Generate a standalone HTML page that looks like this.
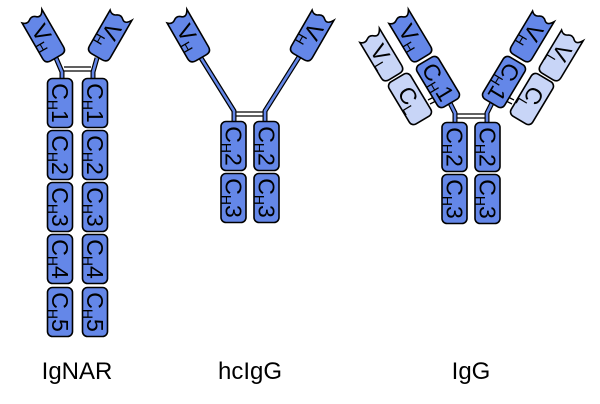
<!DOCTYPE html>
<html><head><meta charset="utf-8"><style>
html,body{margin:0;padding:0;background:#fff;}
svg{display:block;}
.h{fill:#6487e8;stroke:#000;stroke-width:1.6;}
.l{fill:#c8d5f7;stroke:#000;stroke-width:1.6;}
text{font-family:"Liberation Sans",sans-serif;fill:#000;}
.t{font-size:23px;}
.lab{font-size:24px;}
.ck{fill:none;stroke:#000;stroke-width:5;stroke-linejoin:round;}
.cb{fill:none;stroke:#6487e8;stroke-width:2.6;stroke-linejoin:round;}
.br{stroke:#000;stroke-width:1.3;}
</style></head><body>
<svg width="600" height="404" viewBox="0 0 600 404" xmlns="http://www.w3.org/2000/svg">
<defs>
<rect id="box" x="-12.5" y="-24.5" width="25" height="49" rx="5"/>
<path id="vd" d="M-12,-23 Q-8,-19 -4,-22 Q0,-25 4,-21 Q8,-18 12,-25 L12,18 Q12,24 6,24 L-6,24 Q-12,24 -12,18 Z"/>
</defs>

<path class="ck" d="M56,58 L62,72 L62,80"/><path class="cb" d="M56,58 L62,72 L62,80"/>
<path class="ck" d="M97,58 L93,72 L93,80"/><path class="cb" d="M97,58 L93,72 L93,80"/>
<line class="br" x1="64" y1="67" x2="91" y2="67"/><line class="br" x1="64" y1="71" x2="91" y2="71"/>

<path class="ck" d="M201,58 L234,111 L234,122"/><path class="cb" d="M201,58 L234,111 L234,122"/>
<path class="ck" d="M299,57 L265,111 L265,122"/><path class="cb" d="M299,57 L265,111 L265,122"/>
<line class="br" x1="236" y1="112" x2="263" y2="112"/><line class="br" x1="236" y1="116" x2="263" y2="116"/>

<path class="ck" d="M450,103 L455,113 L455,124"/><path class="cb" d="M450,103 L455,113 L455,124"/>
<path class="ck" d="M492,103 L487,113 L487,124"/><path class="cb" d="M492,103 L487,113 L487,124"/>
<line class="br" x1="457" y1="114" x2="485" y2="114"/><line class="br" x1="457" y1="118" x2="485" y2="118"/>
<line class="br" x1="428" y1="100" x2="434" y2="97"/><line class="br" x1="430" y1="104" x2="436" y2="101"/>
<line class="br" x1="514" y1="100" x2="508" y2="97"/><line class="br" x1="512" y1="104" x2="506" y2="101"/>

<!-- IgNAR -->
<g transform="translate(44,37) rotate(-30)"><use href="#vd" class="h"/><text class="t" transform="rotate(90)" text-anchor="middle" y="8">V<tspan font-size="14" dy="4">H</tspan></text></g>
<g transform="translate(109,36) rotate(30)"><use href="#vd" class="h"/><text class="t" transform="rotate(90)" text-anchor="middle" y="8">V<tspan font-size="14" dy="4">H</tspan></text></g>
<g transform="translate(60,103)"><use href="#box" class="h"/><text class="t" transform="rotate(90)" text-anchor="middle" y="8">C<tspan font-size="14" dy="4">H</tspan><tspan dy="-4">1</tspan></text></g>
<g transform="translate(60,155)"><use href="#box" class="h"/><text class="t" transform="rotate(90)" text-anchor="middle" y="8">C<tspan font-size="14" dy="4">H</tspan><tspan dy="-4">2</tspan></text></g>
<g transform="translate(60,207)"><use href="#box" class="h"/><text class="t" transform="rotate(90)" text-anchor="middle" y="8">C<tspan font-size="14" dy="4">H</tspan><tspan dy="-4">3</tspan></text></g>
<g transform="translate(60,259)"><use href="#box" class="h"/><text class="t" transform="rotate(90)" text-anchor="middle" y="8">C<tspan font-size="14" dy="4">H</tspan><tspan dy="-4">4</tspan></text></g>
<g transform="translate(60,312)"><use href="#box" class="h"/><text class="t" transform="rotate(90)" text-anchor="middle" y="8">C<tspan font-size="14" dy="4">H</tspan><tspan dy="-4">5</tspan></text></g>
<g transform="translate(95,103)"><use href="#box" class="h"/><text class="t" transform="rotate(90)" text-anchor="middle" y="8">C<tspan font-size="14" dy="4">H</tspan><tspan dy="-4">1</tspan></text></g>
<g transform="translate(95,155)"><use href="#box" class="h"/><text class="t" transform="rotate(90)" text-anchor="middle" y="8">C<tspan font-size="14" dy="4">H</tspan><tspan dy="-4">2</tspan></text></g>
<g transform="translate(95,207)"><use href="#box" class="h"/><text class="t" transform="rotate(90)" text-anchor="middle" y="8">C<tspan font-size="14" dy="4">H</tspan><tspan dy="-4">3</tspan></text></g>
<g transform="translate(95,259)"><use href="#box" class="h"/><text class="t" transform="rotate(90)" text-anchor="middle" y="8">C<tspan font-size="14" dy="4">H</tspan><tspan dy="-4">4</tspan></text></g>
<g transform="translate(95,312)"><use href="#box" class="h"/><text class="t" transform="rotate(90)" text-anchor="middle" y="8">C<tspan font-size="14" dy="4">H</tspan><tspan dy="-4">5</tspan></text></g>

<!-- hcIgG -->
<g transform="translate(189,37) rotate(-30)"><use href="#vd" class="h"/><text class="t" transform="rotate(90)" text-anchor="middle" y="8">V<tspan font-size="14" dy="4">H</tspan></text></g>
<g transform="translate(311,36) rotate(30)"><use href="#vd" class="h"/><text class="t" transform="rotate(90)" text-anchor="middle" y="8">V<tspan font-size="14" dy="4">H</tspan></text></g>
<g transform="translate(233.5,146)"><use href="#box" class="h"/><text class="t" transform="rotate(90)" text-anchor="middle" y="8">C<tspan font-size="14" dy="4">H</tspan><tspan dy="-4">2</tspan></text></g>
<g transform="translate(233.5,198)"><use href="#box" class="h"/><text class="t" transform="rotate(90)" text-anchor="middle" y="8">C<tspan font-size="14" dy="4">H</tspan><tspan dy="-4">3</tspan></text></g>
<g transform="translate(266.5,146)"><use href="#box" class="h"/><text class="t" transform="rotate(90)" text-anchor="middle" y="8">C<tspan font-size="14" dy="4">H</tspan><tspan dy="-4">2</tspan></text></g>
<g transform="translate(266.5,198)"><use href="#box" class="h"/><text class="t" transform="rotate(90)" text-anchor="middle" y="8">C<tspan font-size="14" dy="4">H</tspan><tspan dy="-4">3</tspan></text></g>

<!-- IgG -->
<g transform="translate(382,56) rotate(-31)"><use href="#vd" class="l"/><text class="t" transform="rotate(90)" text-anchor="middle" y="8">V<tspan font-size="14" dy="4">L</tspan></text></g>
<g transform="translate(410,99) rotate(-31)"><use href="#box" class="l"/><text class="t" transform="rotate(90)" text-anchor="middle" y="8">C<tspan font-size="14" dy="4">L</tspan></text></g>
<g transform="translate(411,37) rotate(-31)"><use href="#vd" class="h"/><text class="t" transform="rotate(90)" text-anchor="middle" y="8">V<tspan font-size="14" dy="4">H</tspan></text></g>
<g transform="translate(438,82) rotate(-31)"><use href="#box" class="h"/><text class="t" transform="rotate(90)" text-anchor="middle" y="8">C<tspan font-size="14" dy="4">H</tspan><tspan dy="-4">1</tspan></text></g>
<g transform="translate(560,56) rotate(31)"><use href="#vd" class="l"/><text class="t" transform="rotate(90)" text-anchor="middle" y="8">V<tspan font-size="14" dy="4">L</tspan></text></g>
<g transform="translate(532,99) rotate(31)"><use href="#box" class="l"/><text class="t" transform="rotate(90)" text-anchor="middle" y="8">C<tspan font-size="14" dy="4">L</tspan></text></g>
<g transform="translate(531,37) rotate(31)"><use href="#vd" class="h"/><text class="t" transform="rotate(90)" text-anchor="middle" y="8">V<tspan font-size="14" dy="4">H</tspan></text></g>
<g transform="translate(504,82) rotate(31)"><use href="#box" class="h"/><text class="t" transform="rotate(90)" text-anchor="middle" y="8">C<tspan font-size="14" dy="4">H</tspan><tspan dy="-4">1</tspan></text></g>
<g transform="translate(454.5,147)"><use href="#box" class="h"/><text class="t" transform="rotate(90)" text-anchor="middle" y="8">C<tspan font-size="14" dy="4">H</tspan><tspan dy="-4">2</tspan></text></g>
<g transform="translate(454.5,199)"><use href="#box" class="h"/><text class="t" transform="rotate(90)" text-anchor="middle" y="8">C<tspan font-size="14" dy="4">H</tspan><tspan dy="-4">3</tspan></text></g>
<g transform="translate(487.5,147)"><use href="#box" class="h"/><text class="t" transform="rotate(90)" text-anchor="middle" y="8">C<tspan font-size="14" dy="4">H</tspan><tspan dy="-4">2</tspan></text></g>
<g transform="translate(487.5,199)"><use href="#box" class="h"/><text class="t" transform="rotate(90)" text-anchor="middle" y="8">C<tspan font-size="14" dy="4">H</tspan><tspan dy="-4">3</tspan></text></g>

<text class="lab" x="77" y="379" text-anchor="middle">IgNAR</text>
<text class="lab" x="250" y="379" text-anchor="middle">hcIgG</text>
<text class="lab" x="471" y="379" text-anchor="middle">IgG</text>
</svg>
</body></html>
